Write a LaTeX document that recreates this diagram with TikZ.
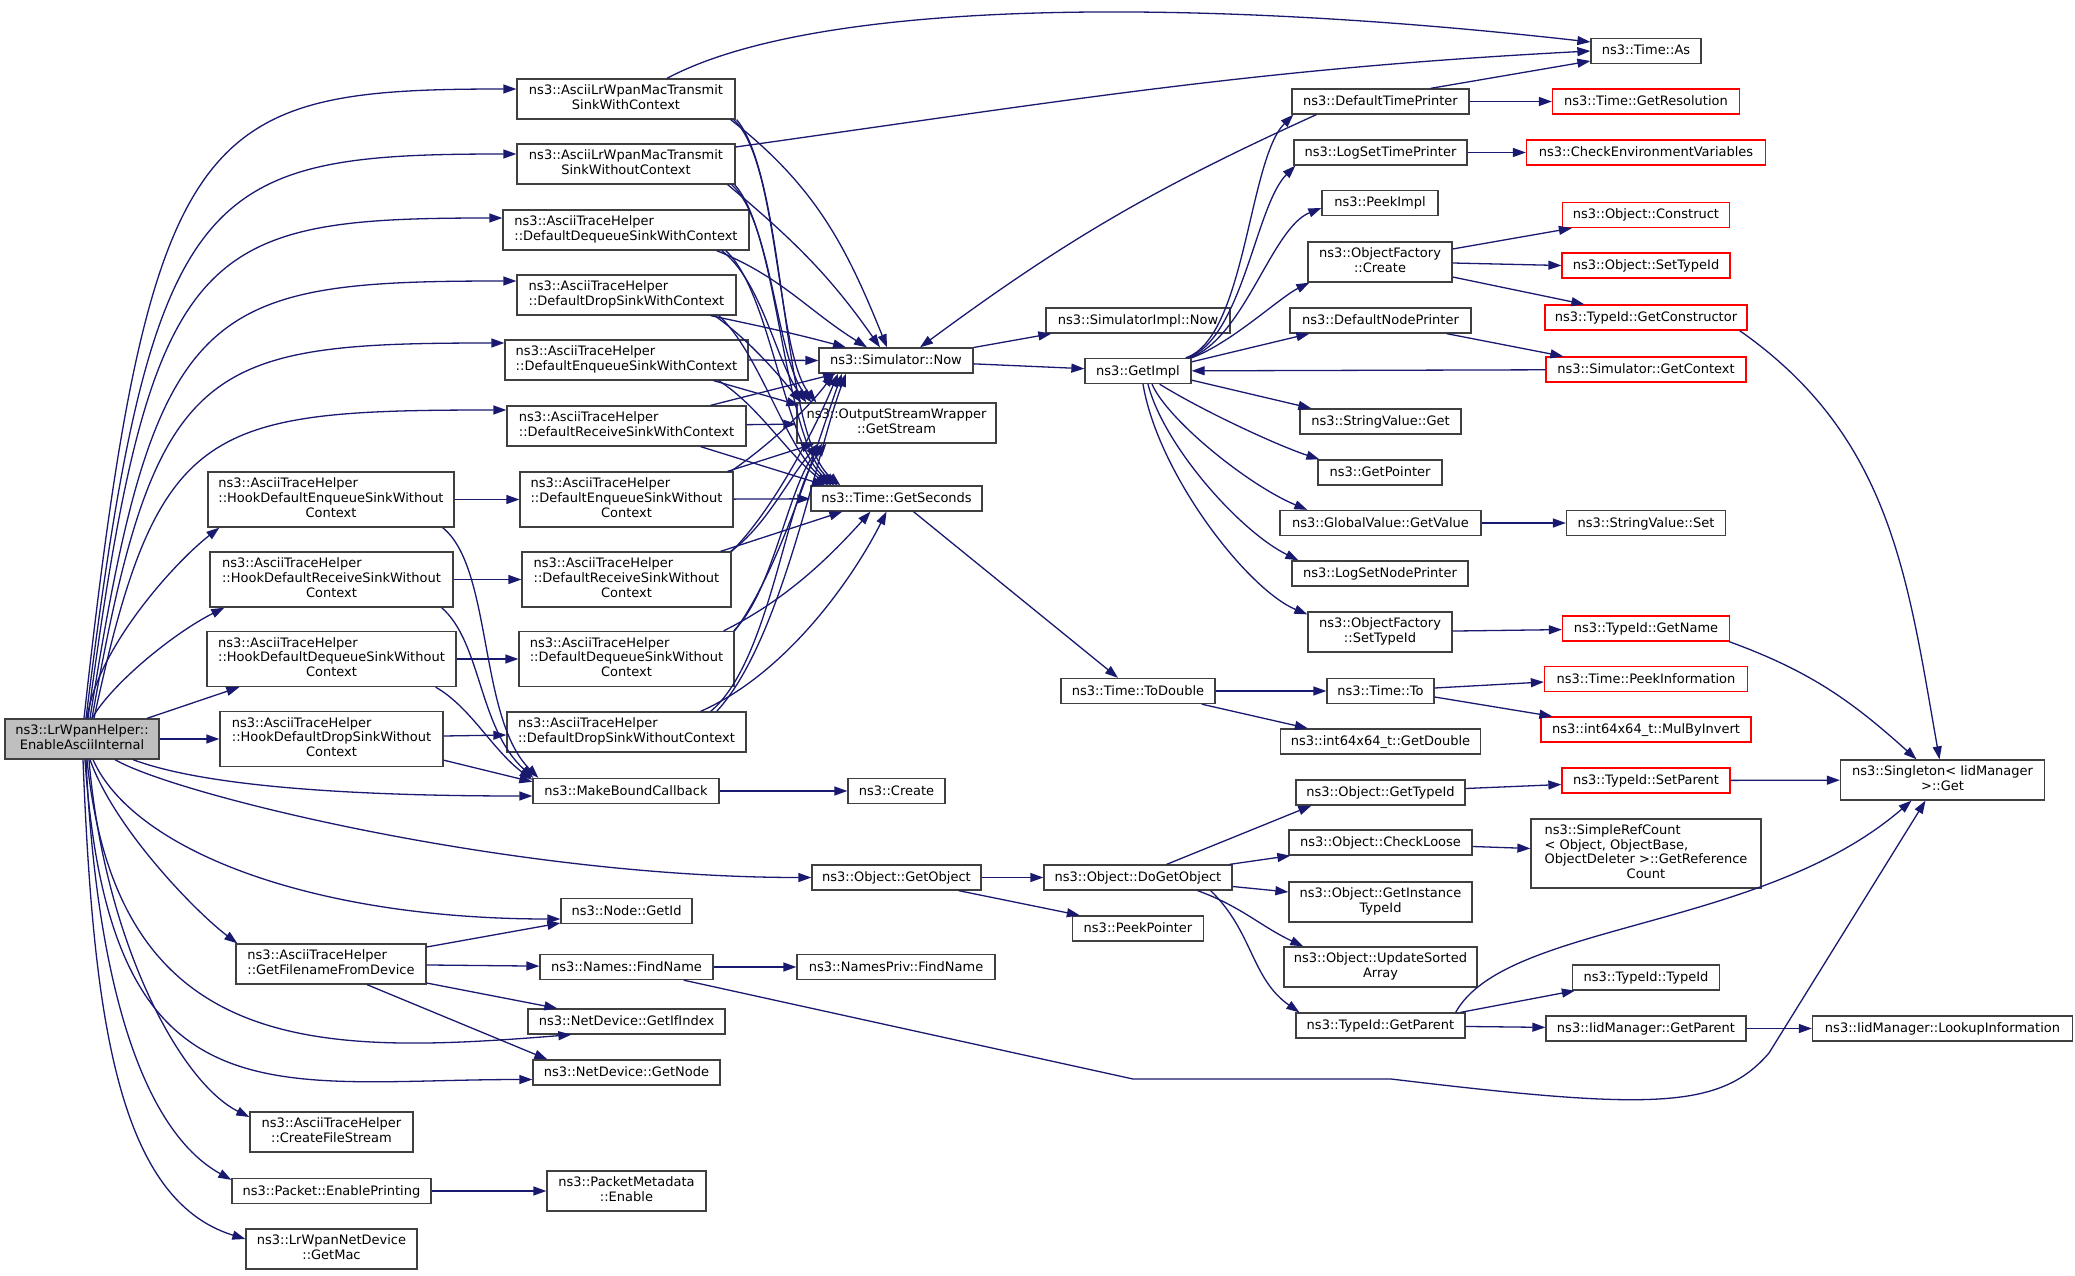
\documentclass[tikz,border=0pt]{standalone}
\usepackage{fontspec}
\setmainfont{DejaVu Sans}
\usetikzlibrary{arrows.meta}
\definecolor{edgeblue}{HTML}{191970}
\definecolor{boxline}{HTML}{404040}
\definecolor{rootgray}{HTML}{BFBFBF}
\newcommand{\graphfont}{\fontsize{13}{14.7}\selectfont}
\newcommand{\twoline}[2]{\begin{tabular}{@{}l@{}}#1\\\multicolumn{1}{@{}c@{}}{#2}\end{tabular}}
\newcommand{\threeline}[3]{\begin{tabular}{@{}l@{}}#1\\#2\\\multicolumn{1}{@{}c@{}}{#3}\end{tabular}}
\newcommand{\fourline}[4]{\begin{tabular}{@{}l@{}}#1\\#2\\#3\\\multicolumn{1}{@{}c@{}}{#4}\end{tabular}}

\begin{document}
\begin{tikzpicture}[
    x=1pt, y=-1pt,
    fnbox/.style={rectangle, draw=boxline, line width=1.3pt, fill=white,
        inner sep=0pt, font=\graphfont},
    fn/.style={fnbox, minimum height=25pt, text height=11pt, text depth=3pt},
    fn2/.style={fnbox, minimum height=40pt},
    fn3/.style={fnbox, minimum height=55pt},
    fn4/.style={fnbox, minimum height=69pt},
    trunc/.style={draw=red},
    root/.style={fill=rootgray},
    bw/.style={minimum width=#1pt},
    call/.style={draw=edgeblue, line width=1.3pt, -{Triangle[length=13pt, width=9pt]}}
]
\fill[white] (0,0) rectangle (2075,1276);
\useasboundingbox (0,0) rectangle (2075,1276);

% Caller
\node[fn2, root, bw=154] (M) at (82,739) {\twoline{ns3::LrWpanHelper::}{EnableAsciiInternal}};

% Hooks and helpers (x=331)
\node[fn3, bw=246] (HEn) at (331,499.5) {\threeline{ns3::AsciiTraceHelper}{::HookDefaultEnqueueSinkWithout}{Context}};
\node[fn3, bw=243] (HRc) at (331.5,579.5) {\threeline{ns3::AsciiTraceHelper}{::HookDefaultReceiveSinkWithout}{Context}};
\node[fn3, bw=249] (HDq) at (331.5,659) {\threeline{ns3::AsciiTraceHelper}{::HookDefaultDequeueSinkWithout}{Context}};
\node[fn3, bw=223] (HDr) at (331.5,739) {\threeline{ns3::AsciiTraceHelper}{::HookDefaultDropSinkWithout}{Context}};
\node[fn2, bw=190] (GFD) at (331,964) {\twoline{ns3::AsciiTraceHelper}{::GetFilenameFromDevice}};
\node[fn2, bw=163] (CFS) at (331.5,1132) {\twoline{ns3::AsciiTraceHelper}{::CreateFileStream}};
\node[fn, bw=199] (EnablePrinting) at (331.5,1191) {ns3::Packet::EnablePrinting};
\node[fn2, bw=171] (GetMac) at (331.5,1249) {\twoline{ns3::LrWpanNetDevice}{::GetMac}};

% Sinks (x=626)
\node[fn2, bw=218] (TWC) at (626,99) {\twoline{ns3::AsciiLrWpanMacTransmit}{SinkWithContext}};
\node[fn2, bw=218] (TWOC) at (626,164) {\twoline{ns3::AsciiLrWpanMacTransmit}{SinkWithoutContext}};
\node[fn2, bw=246] (DDqWC) at (626,230) {\twoline{ns3::AsciiTraceHelper}{::DefaultDequeueSinkWithContext}};
\node[fn2, bw=219] (DDrWC) at (626.5,295) {\twoline{ns3::AsciiTraceHelper}{::DefaultDropSinkWithContext}};
\node[fn2, bw=243] (DEnWC) at (626.5,360) {\twoline{ns3::AsciiTraceHelper}{::DefaultEnqueueSinkWithContext}};
\node[fn2, bw=239] (DRcWC) at (626.5,426) {\twoline{ns3::AsciiTraceHelper}{::DefaultReceiveSinkWithContext}};
\node[fn3, bw=213] (DEnWOC) at (626.5,499.5) {\threeline{ns3::AsciiTraceHelper}{::DefaultEnqueueSinkWithout}{Context}};
\node[fn3, bw=209] (DRcWOC) at (626.5,579.5) {\threeline{ns3::AsciiTraceHelper}{::DefaultReceiveSinkWithout}{Context}};
\node[fn3, bw=215] (DDqWOC) at (626.5,659) {\threeline{ns3::AsciiTraceHelper}{::DefaultDequeueSinkWithout}{Context}};
\node[fn2, bw=239] (DDrWOC) at (626.5,732) {\twoline{ns3::AsciiTraceHelper}{::DefaultDropSinkWithoutContext}};
\node[fn, bw=186] (MBC) at (626,791) {ns3::MakeBoundCallback};
\node[fn, bw=131] (NodeGetId) at (626.5,911) {ns3::Node::GetId};
\node[fn, bw=173] (NamesFind) at (626.5,967) {ns3::Names::FindName};
\node[fn, bw=197] (GetIfIndex) at (626.5,1021.5) {ns3::NetDevice::GetIfIndex};
\node[fn, bw=187] (GetNode) at (626.5,1072.5) {ns3::NetDevice::GetNode};
\node[fn2, bw=159] (PMEnable) at (626.5,1191) {\twoline{ns3::PacketMetadata}{::Enable}};

% x=896
\node[fn, bw=154] (Now) at (896,360.5) {ns3::Simulator::Now};
\node[fn2, bw=199] (GetStream) at (896.5,423) {\twoline{ns3::OutputStreamWrapper}{::GetStream}};
\node[fn, bw=171] (GetSeconds) at (896.5,498.5) {ns3::Time::GetSeconds};
\node[fn, bw=97] (Create) at (896.5,791) {ns3::Create};
\node[fn, bw=169] (GetObject) at (896.5,877.5) {ns3::Object::GetObject};
\node[fn, bw=198] (NamesPrivFind) at (896,967) {ns3::NamesPriv::FindName};

% x=1138
\node[fn, bw=184] (SimImplNow) at (1138,320.5) {ns3::SimulatorImpl::Now};
\node[fn, bw=106] (GetImpl) at (1138,371) {ns3::GetImpl};
\node[fn, bw=154] (ToDouble) at (1138,691) {ns3::Time::ToDouble};
\node[fn, bw=188] (DoGetObject) at (1138,877.5) {ns3::Object::DoGetObject};
\node[fn, bw=131] (PeekPointer) at (1138,928.5) {ns3::PeekPointer};

% x=1380
\node[fn, bw=177] (DefTimePrinter) at (1380.5,101.5) {ns3::DefaultTimePrinter};
\node[fn, bw=173] (LogSetTimePrinter) at (1380.5,152.5) {ns3::LogSetTimePrinter};
\node[fn, bw=116] (PeekImpl) at (1380,203) {ns3::PeekImpl};
\node[fn2, bw=144] (OFCreate) at (1380,262) {\twoline{ns3::ObjectFactory}{::Create}};
\node[fn, bw=181] (DefNodePrinter) at (1380.5,320.5) {ns3::DefaultNodePrinter};
\node[fn, bw=161] (SVGet) at (1380.5,421.5) {ns3::StringValue::Get};
\node[fn, bw=124] (GetPointer) at (1380,472.5) {ns3::GetPointer};
\node[fn, bw=201] (GVGetValue) at (1380.5,523) {ns3::GlobalValue::GetValue};
\node[fn, bw=176] (LogSetNodePrinter) at (1380,573.5) {ns3::LogSetNodePrinter};
\node[fn2, bw=144] (OFSetTypeId) at (1380,632) {\twoline{ns3::ObjectFactory}{::SetTypeId}};
\node[fn, bw=107] (TimeTo) at (1380.5,691) {ns3::Time::To};
\node[fn, bw=200] (GetDouble) at (1380.5,741.5) {ns3::int64x64\_t::GetDouble};
\node[fn, bw=169] (ObjGetTypeId) at (1380.5,792.5) {ns3::Object::GetTypeId};
\node[fn, bw=183] (CheckLoose) at (1380.5,842.5) {ns3::Object::CheckLoose};
\node[fn2, bw=183] (GetInstTypeId) at (1380.5,902) {\twoline{ns3::Object::GetInstance}{TypeId}};
\node[fn2, bw=193] (UpdateSorted) at (1380.5,967) {\twoline{ns3::Object::UpdateSorted}{Array}};
\node[fn, bw=169] (TIGetParent) at (1380.5,1025.5) {ns3::TypeId::GetParent};

% x=1646
\node[fn, bw=110] (TimeAs) at (1646,51) {ns3::Time::As};
\node[fn, trunc, bw=187] (GetResolution) at (1646,101.5) {ns3::Time::GetResolution};
\node[fn, trunc, bw=239] (CheckEnv) at (1646,152.5) {ns3::CheckEnvironmentVariables};
\node[fn, trunc, bw=167] (Construct) at (1646,215) {ns3::Object::Construct};
\node[fn, trunc, bw=168] (ObjSetTypeId) at (1646,265.5) {ns3::Object::SetTypeId};
\node[fn, trunc, bw=202] (GetConstructor) at (1646,317.5) {ns3::TypeId::GetConstructor};
\node[fn, trunc, bw=200] (GetContext) at (1646,369.5) {ns3::Simulator::GetContext};
\node[fn, bw=159] (SVSet) at (1646,523) {ns3::StringValue::Set};
\node[fn, trunc, bw=167] (GetName) at (1646,628.5) {ns3::TypeId::GetName};
\node[fn, trunc, bw=203] (PeekInfo) at (1646,679) {ns3::Time::PeekInformation};
\node[fn, trunc, bw=210] (MulByInvert) at (1646,729.5) {ns3::int64x64\_t::MulByInvert};
\node[fn, trunc, bw=168] (SetParent) at (1646,780.5) {ns3::TypeId::SetParent};
\node[fn4, bw=230] (SimpleRefCount) at (1646,853.5) {\fourline{ns3::SimpleRefCount}{< Object, ObjectBase,}{ObjectDeleter >::GetReference}{Count}};
\node[fn, bw=147] (TypeIdTypeId) at (1646,977.5) {ns3::TypeId::TypeId};
\node[fn, bw=200] (IidGetParent) at (1646,1028.5) {ns3::IidManager::GetParent};

% x=1942
\node[fn2, bw=204] (Singleton) at (1942.5,780) {\twoline{ns3::Singleton< IidManager}{>::Get}};
\node[fn, bw=260] (Lookup) at (1942.5,1028.5) {ns3::IidManager::LookupInformation};

% Calls from the caller, upwards
\draw[call] ([xshift=2pt]M.north) .. controls +(66,-599) and +(-317,0) .. ([yshift=10pt]TWC.west);
\draw[call] ([xshift=4pt]M.north) .. controls +(66,-537) and +(-315,0) .. ([yshift=10pt]TWOC.west);
\draw[call] ([xshift=6pt]M.north) .. controls +(63,-476) and +(-304,0) .. ([yshift=12pt]DDqWC.west);
\draw[call] ([xshift=8pt]M.north) .. controls +(65,-417) and +(-313,0) .. ([yshift=14pt]DDrWC.west);
\draw[call] ([xshift=10pt]M.north) .. controls +(63,-358) and +(-302,0) .. ([yshift=17pt]DEnWC.west);
\draw[call] ([xshift=12pt]M.north) .. controls +(63,-295) and +(-302,0) .. ([yshift=16pt]DRcWC.west);
\draw[call] ([xshift=5pt]M.north) .. controls +(10,-70) and +(-45,35) .. ([xshift=12pt]HEn.south west);
\draw[call] ([xshift=10pt]M.north) .. controls +(20,-35) and +(-50,25) .. ([xshift=15pt]HRc.south west);
\draw[call] ([xshift=65pt]M.north) -- ([xshift=33pt]HDq.south west);
\draw[call] (M.east) -- (HDr.west);

% Calls from the caller, downwards
\draw[call] ([xshift=51pt]M.south) .. controls +(80,30) and +(-150,0) .. ([yshift=-5pt]MBC.west);
\draw[call] ([xshift=33pt]M.south) .. controls +(60,35) and +(-300,0) .. (GetObject.west);
\draw[call] ([xshift=11pt]M.south) .. controls +(40,90) and +(-250,0) .. ([yshift=-8pt]NodeGetId.west);
\draw[call] ([xshift=8pt]M.south) .. controls +(25,70) and +(-40,-30) .. ([xshift=2pt]GFD.north west);
\draw[call] ([xshift=5pt]M.south) .. controls +(30,300) and +(-250,20) .. ([xshift=44pt]GetIfIndex.south west);
\draw[call] ([xshift=3pt]M.south) .. controls +(25,370) and +(-260,0) .. ([yshift=-7pt]GetNode.west);
\draw[call] ([xshift=7pt]M.south) .. controls +(15,180) and +(-70,-35) .. ([yshift=15pt]CFS.west);
\draw[call] ([xshift=4pt]M.south) .. controls +(10,220) and +(-90,-50) .. ([yshift=-2pt]EnablePrinting.north west);
\draw[call] ([xshift=1pt]M.south) .. controls +(10,250) and +(-130,-40) .. ([yshift=10pt]GetMac.west);

% Hooks
\draw[call] (HEn) -- (DEnWOC);
\draw[call] (HRc) -- (DRcWOC);
\draw[call] (HDq) -- (DDqWOC);
\draw[call] ([yshift=3pt]HDr.east) -- ([yshift=-3pt]DDrWOC.west);
\draw[call] ([xshift=-12pt]HEn.south east) .. controls +(50,40) and +(-60,-60) .. ([xshift=6pt]MBC.north west);
\draw[call] ([xshift=-12pt]HRc.south east) .. controls +(40,35) and +(-55,-50) .. ([xshift=1pt]MBC.north west);
\draw[call] ([xshift=-21pt]HDq.south east) .. controls +(35,20) and +(-40,-30) .. ([yshift=-2pt]MBC.north west);
\draw[call] ([yshift=7pt]HDr.south east) -- ([yshift=-4pt]MBC.north west);
\draw[call] (MBC) -- (Create);

% Sinks with context
\draw[call] ([xshift=-5pt]TWC.south east) to[out=-38, in=112] ([xshift=-9pt]Now.north);
\draw[call] ([xshift=-8pt]TWOC.south east) to[out=-40, in=125] ([xshift=-16pt]Now.north);
\draw[call] ([xshift=-33pt]DDqWC.south east) to[out=-22, in=148] ([xshift=-29pt]Now.north);
\draw[call] ([xshift=-26pt]DDrWC.south east) to[out=-12, in=165] ([xshift=-50pt]Now.north);
\draw[call] (DEnWC.east) -- (Now.west);
\draw[call] ([xshift=-36pt]DRcWC.north east) -- ([xshift=-60pt]Now.south);
\draw[call] ([xshift=-2pt]TWC.south east) .. controls +(45,40) and +(-40,-50) .. ([xshift=20pt]GetStream.north west);
\draw[call] ([xshift=-4pt]TWOC.south east) .. controls +(40,35) and +(-35,-45) .. ([xshift=15pt]GetStream.north west);
\draw[call] ([xshift=-28pt]DDqWC.south east) .. controls +(40,30) and +(-30,-40) .. ([xshift=10pt]GetStream.north west);
\draw[call] ([xshift=-22pt]DDrWC.south east) .. controls +(35,25) and +(-25,-30) .. ([xshift=5pt]GetStream.north west);
\draw[call] ([xshift=-35pt]DEnWC.south east) -- ([xshift=3pt,yshift=-3pt]GetStream.north west);
\draw[call] (DRcWC) -- (GetStream);
\draw[call] ([xshift=1pt]TWC.south east) .. controls +(50,60) and +(-60,-50) .. ([xshift=30pt]GetSeconds.north west);
\draw[call] ([xshift=-1pt]TWOC.south east) .. controls +(45,50) and +(-55,-45) .. ([xshift=27pt]GetSeconds.north west);
\draw[call] ([xshift=-24pt]DDqWC.south east) .. controls +(45,40) and +(-50,-40) .. ([xshift=24pt]GetSeconds.north west);
\draw[call] ([xshift=-18pt]DDrWC.south east) .. controls +(40,35) and +(-45,-35) .. ([xshift=21pt]GetSeconds.north west);
\draw[call] ([xshift=-30pt]DEnWC.south east) .. controls +(40,25) and +(-40,-30) .. ([xshift=18pt]GetSeconds.north west);
\draw[call] ([xshift=-46pt]DRcWC.south east) -- ([xshift=15pt]GetSeconds.north west);
\draw[call] ([xshift=41pt]TWC.north) .. controls +(150,-80) and +(-400,-45) .. ([yshift=9pt]TimeAs.west);
\draw[call] ([yshift=17pt]TWOC.east) to[out=8, in=183] (TimeAs.west);

% Sinks without context
\draw[call] (DEnWOC) -- (GetSeconds);
\draw[call] ([xshift=-6pt]DEnWOC.north east) -- ([xshift=18pt]GetStream.south west);
\draw[call] ([xshift=-3pt]DEnWOC.north east) .. controls +(30,-20) and +(-30,40) .. ([xshift=-62pt]Now.south);
\draw[call] ([xshift=-11pt]DRcWOC.north east) -- ([xshift=32pt]GetSeconds.south west);
\draw[call] ([xshift=-1pt]DRcWOC.north east) .. controls +(35,-25) and +(-30,35) .. ([xshift=22pt]GetStream.south west);
\draw[call] (DRcWOC.north east) .. controls +(40,-40) and +(-25,60) .. ([xshift=-58pt]Now.south);
\draw[call] ([xshift=-11pt]DDqWOC.north east) .. controls +(60,-30) and +(-45,50) .. ([xshift=-26pt]GetSeconds.south);
\draw[call] ([xshift=-1pt]DDqWOC.north east) .. controls +(40,-40) and +(-35,45) .. ([xshift=26pt]GetStream.south west);
\draw[call] (DDqWOC.north east) .. controls +(45,-60) and +(-25,70) .. ([xshift=-54pt]Now.south);
\draw[call] ([xshift=-46pt]DDrWOC.north east) .. controls +(90,-40) and +(-30,60) .. ([xshift=-10pt]GetSeconds.south);
\draw[call] ([xshift=-36pt]DDrWOC.north east) .. controls +(60,-50) and +(-40,50) .. ([xshift=30pt]GetStream.south west);
\draw[call] ([xshift=-30pt]DDrWOC.north east) .. controls +(65,-70) and +(-30,80) .. ([xshift=-50pt]Now.south);

% Simulator and time
\draw[call] ([yshift=13pt]Now.east) -- ([xshift=6pt]SimImplNow.south west);
\draw[call] (Now) -- (GetImpl);
\draw[call] ([xshift=17pt]GetSeconds.south) -- ([xshift=-20pt]ToDouble.north);
\draw[call] (ToDouble) -- (TimeTo);
\draw[call] ([xshift=-14pt]ToDouble.south east) -- ([xshift=28pt]GetDouble.north west);
\draw[call] ([yshift=3pt]TimeTo.east) -- ([yshift=-3pt]PeekInfo.west);
\draw[call] ([yshift=-6pt]TimeTo.east) -- ([xshift=12pt]MulByInvert.north west);
\draw[call] ([xshift=-39pt]DefTimePrinter.north east) -- ([yshift=-10pt]TimeAs.west);
\draw[call] (DefTimePrinter) -- (GetResolution);
\draw[call] ([xshift=25pt]DefTimePrinter.south west) to[bend right=6] ([xshift=24pt]Now.north);
\draw[call] (LogSetTimePrinter) -- (CheckEnv);

% GetImpl
\draw[call] ([xshift=-6pt]GetImpl.north east) .. controls +(60,-20) and +(-45,45) .. ([xshift=2pt]DefTimePrinter.south west);
\draw[call] ([xshift=-4pt]GetImpl.north east) .. controls +(55,-20) and +(-40,40) .. ([xshift=2pt]LogSetTimePrinter.south west);
\draw[call] ([xshift=-2pt]GetImpl.north east) .. controls +(55,-20) and +(-50,20) .. ([yshift=-5pt]PeekImpl.west);
\draw[call] (GetImpl.north east) .. controls +(40,-15) and +(-30,15) .. ([xshift=2pt]OFCreate.south west);
\draw[call] ([yshift=-4pt]GetImpl.north east) -- ([xshift=20pt]DefNodePrinter.south west);
\draw[call] ([yshift=4pt]GetImpl.south east) -- ([xshift=12pt]SVGet.north west);
\draw[call] ([xshift=-32pt]GetImpl.south east) .. controls +(40,25) and +(-45,-15) .. ([xshift=2pt]GetPointer.north west);
\draw[call] ([xshift=14pt]GetImpl.south) .. controls +(15,35) and +(-60,-25) .. ([xshift=28pt]GVGetValue.north west);
\draw[call] ([xshift=10pt]GetImpl.south) .. controls +(15,60) and +(-60,-30) .. ([xshift=7pt]LogSetNodePrinter.north west);
\draw[call] ([xshift=5pt]GetImpl.south) .. controls +(15,90) and +(-60,-25) .. ([yshift=-3pt]OFSetTypeId.north west);
\draw[call] (GetContext) -- (GetImpl);
\draw[call] ([xshift=-25pt]DefNodePrinter.south east) -- ([xshift=18pt]GetContext.north west);

% Object factory and type ids
\draw[call] ([yshift=13pt]OFCreate.east) -- ([xshift=10pt]Construct.south west);
\draw[call] ([yshift=-1pt]OFCreate.east) -- (ObjSetTypeId.west);
\draw[call] ([yshift=-15pt]OFCreate.east) -- ([xshift=40pt]GetConstructor.north west);
\draw[call] ([xshift=-8pt]GetConstructor.south east) to[out=-35, in=100] ([xshift=-3pt]Singleton.north);
\draw[call] (GVGetValue) -- (SVSet);
\draw[call] (OFSetTypeId) -- (GetName);
\draw[call] ([xshift=-1pt]GetName.south east) to[out=-20, in=138] ([xshift=-26pt]Singleton.north);
\draw[call] (SetParent) -- (Singleton);

% Objects
\draw[call] (GetObject) -- (DoGetObject);
\draw[call] ([xshift=-23pt]GetObject.south east) -- ([xshift=8pt]PeekPointer.north west);
\draw[call] ([xshift=-66pt]DoGetObject.north east) -- ([xshift=16pt]ObjGetTypeId.south west);
\draw[call] ([xshift=-3pt]DoGetObject.north east) -- ([xshift=2pt]CheckLoose.south west);
\draw[call] ([yshift=-9pt]DoGetObject.east) -- ([yshift=10pt]GetInstTypeId.west);
\draw[call] ([xshift=-35pt]DoGetObject.south east) to[out=-20, in=155] ([xshift=20pt]UpdateSorted.north west);
\draw[call] ([xshift=-22pt]DoGetObject.south east) to[out=-44, in=145] ([xshift=4pt]TIGetParent.north west);
\draw[call] ([yshift=4pt]ObjGetTypeId.east) -- ([yshift=-4pt]SetParent.west);
\draw[call] ([yshift=-4pt]CheckLoose.east) -- ([yshift=5pt]SimpleRefCount.west);
\draw[call] ([xshift=-5pt]TIGetParent.north east) -- ([xshift=3pt]TypeIdTypeId.south west);
\draw[call] (TIGetParent) -- (IidGetParent);
\draw[call] ([xshift=-10pt]TIGetParent.north east) .. controls +(50,-90) and +(-150,130) .. ([xshift=-31pt]Singleton.south);
\draw[call] (IidGetParent) -- (Lookup);

% File names
\draw[call] ([yshift=17pt]GFD.east) -- ([yshift=-12pt]NodeGetId.west);
\draw[call] (GFD) -- (NamesFind);
\draw[call] ([yshift=-19pt]GFD.east) -- ([xshift=30pt]GetIfIndex.north west);
\draw[call] ([xshift=36pt]GFD.south) -- ([xshift=15pt]GetNode.north west);
\draw[call] (NamesFind) -- (NamesPrivFind);
\draw[call] ([xshift=-30pt]NamesFind.south east) -- (1133,1079) -- (1391,1079)
    .. controls (1650,1110) and (1720,1110) .. (1769,1053) -- ([xshift=-17pt]Singleton.south);
\draw[call] (EnablePrinting) -- (PMEnable);

\end{tikzpicture}
\end{document}
